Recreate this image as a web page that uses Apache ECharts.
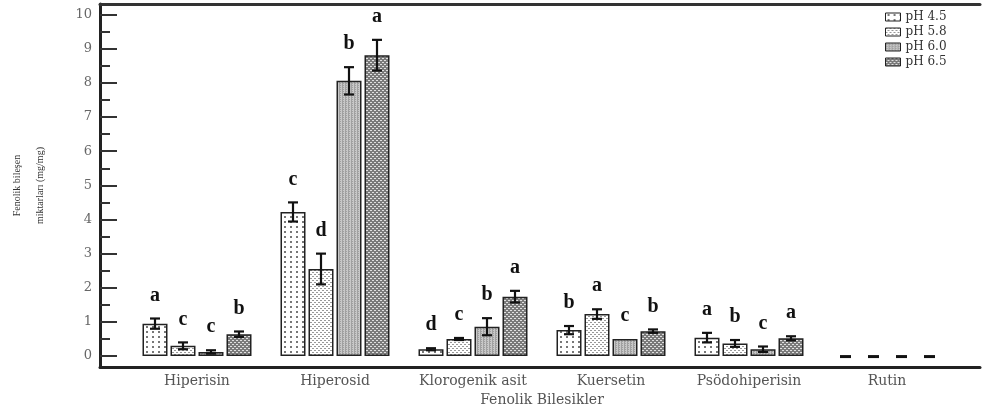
<!DOCTYPE html>
<html>
<head>
<meta charset="utf-8">
<script src="https://cdn.jsdelivr.net/npm/echarts@6/dist/echarts.min.js"></script>
<style>html,body{margin:0;padding:0;background:#fff;}#c{width:983px;height:406px;}</style>
</head>
<body>
<div id="c"></div>
<script>
// ---- data ----
var categories = ['Hiperisin', 'Hiperosid', 'Klorogenik asit', 'Kuersetin', 'Psödohiperisin', 'Rutin'];
var seriesNames = ['pH 4.5', 'pH 5.8', 'pH 6.0', 'pH 6.5'];
var ph45 = [0.95, 4.22, 0.20, 0.76, 0.54, 0];
var ph58 = [0.30, 2.55, 0.50, 1.23, 0.37, 0];
var ph60 = [0.12, 8.06, 0.86, 0.50, 0.20, 0];
var ph65 = [0.64, 8.81, 1.74, 0.73, 0.52, 0];
var err45 = [0.15, 0.28, 0.03, 0.12, 0.14, 0];
var err58 = [0.10, 0.45, 0.03, 0.14, 0.10, 0];
var err60 = [0.05, 0.40, 0.25, 0.00, 0.08, 0];
var err65 = [0.08, 0.45, 0.17, 0.05, 0.06, 0];
var let45 = ['a', 'c', 'd', 'b', 'a', ''];
var let58 = ['c', 'd', 'c', 'a', 'b', ''];
var let60 = ['c', 'b', 'b', 'c', 'c', ''];
var let65 = ['b', 'a', 'a', 'b', 'a', ''];
var yLabelValues = [0, 1, 2, 3, 4, 5, 6, 7, 8, 9, 10];
var yMinorValues = [0.5, 1.5, 2.5, 3.5, 4.5, 5.5, 6.5, 7.5, 8.5, 9.5];

var values = [ph45, ph58, ph60, ph65];
var errs = [err45, err58, err60, err65];
var letters = [let45, let58, let60, let65];

// ---- patterns ----
function makePattern(w, h, draw) {
  var c = document.createElement('canvas');
  c.width = w; c.height = h;
  var ctx = c.getContext('2d');
  draw(ctx, w, h);
  return { image: c, repeat: 'repeat' };
}
var patterns = [
  makePattern(6, 5, function (ctx, w, h) {
    ctx.fillStyle = '#ffffff'; ctx.fillRect(0, 0, w, h);
    ctx.fillStyle = '#777'; ctx.fillRect(2, 1, 2, 2);
  }),
  makePattern(4, 4, function (ctx, w, h) {
    ctx.fillStyle = '#ffffff'; ctx.fillRect(0, 0, w, h);
    ctx.fillStyle = '#999'; ctx.fillRect(0, 0, 2, 1); ctx.fillRect(2, 2, 2, 1);
  }),
  makePattern(3, 2, function (ctx, w, h) {
    ctx.fillStyle = '#c8c8c8'; ctx.fillRect(0, 0, w, h);
    ctx.fillStyle = '#a0a0a0'; ctx.fillRect(0, 0, 1, 2); ctx.fillRect(1, 1, 1, 1);
  }),
  makePattern(4, 4, function (ctx, w, h) {
    ctx.fillStyle = '#7a7a7a'; ctx.fillRect(0, 0, w, h);
    ctx.fillStyle = '#e0e0e0'; ctx.fillRect(0, 0, 2, 1); ctx.fillRect(2, 2, 2, 1);
  })
];

var BAR_W = 25, STEP = 28;
var series = [];
var yMin = -0.32, yMax = 10.31;

values.forEach(function (vals, s) {
  series.push({
    name: seriesNames[s],
    type: 'bar',
    xAxisIndex: 2, yAxisIndex: 2,
    barWidth: BAR_W,
    barGap: '12%',
    itemStyle: { color: patterns[s], borderColor: '#222', borderWidth: 1.5 },
    data: vals.map(function (v) {
      return v === 0 ? { value: v, itemStyle: { borderWidth: 0, opacity: 0 } } : v;
    }),
    z: 2
  });
});

values.forEach(function (vals, s) {
  series.push({
    type: 'custom',
    xAxisIndex: 2, yAxisIndex: 2,
    z: 5,
    silent: true,
    data: vals.map(function (v, i) { return [i, v, errs[s][i]]; }),
    renderItem: function (params, api) {
      var i = api.value(0), v = api.value(1), e = api.value(2);
      var off = (s - 1.5) * STEP;
      var top = api.coord([i, v + e]);
      var bot = api.coord([i, v - e]);
      var x = top[0] + off;
      var children = [];
      if (v === 0) {
        var p = api.coord([i, 0]);
        children.push({ type: 'rect', shape: { x: x - 5, y: p[1] - 1, width: 11, height: 3 }, style: { fill: '#111' } });
        return { type: 'group', children: children };
      }
      if (e > 0) {
        var st = { stroke: '#111', lineWidth: 2.2 };
        children.push({ type: 'line', shape: { x1: x, y1: top[1], x2: x, y2: bot[1] }, style: st });
        children.push({ type: 'line', shape: { x1: x - 5, y1: top[1], x2: x + 5, y2: top[1] }, style: st });
        children.push({ type: 'line', shape: { x1: x - 5, y1: bot[1], x2: x + 5, y2: bot[1] }, style: st });
      }
      var lt = letters[s][i];
      if (lt) {
        children.push({
          type: 'text',
          style: {
            text: lt, x: x, y: top[1] - 13,
            textAlign: 'center', textVerticalAlign: 'bottom',
            font: 'bold 20px "Liberation Serif"', fill: '#111'
          }
        });
      }
      return { type: 'group', children: children };
    }
  });
});

var chart = echarts.init(document.getElementById('c'), null, { renderer: 'canvas' });
chart.setOption({
  animation: false,
  backgroundColor: '#ffffff',
  legend: {
    data: seriesNames,
    orient: 'vertical',
    left: 880, top: 6,
    itemWidth: 15, itemHeight: 8, itemGap: 3,
    icon: 'rect',
    itemStyle: { borderColor: '#222', borderWidth: 1 },
    textStyle: { fontFamily: 'DejaVu Serif', fontSize: 12, color: '#333' }
  },
  grid: [
    { left: 100, right: 3, top: 4, bottom: 39, outerBoundsMode: 'none', containLabel: false },
    { left: 128, right: 27, top: 4, bottom: 39, outerBoundsMode: 'none', containLabel: false }
  ],
  xAxis: [
    { gridIndex: 0, type: 'value', min: 0, max: 1, position: 'bottom',
      axisLine: { show: true, onZero: false, lineStyle: { color: '#222', width: 3 } },
      axisTick: { show: false }, axisLabel: { show: false }, splitLine: { show: false } },
    { gridIndex: 0, type: 'value', min: 0, max: 1, position: 'top',
      axisLine: { show: true, onZero: false, lineStyle: { color: '#333', width: 3 } },
      axisTick: { show: false }, axisLabel: { show: false }, splitLine: { show: false } },
    { gridIndex: 1, type: 'category', data: categories,
      axisLine: { show: false, onZero: false }, axisTick: { show: false },
      axisLabel: { interval: 0, margin: 7, fontFamily: 'DejaVu Serif', fontSize: 14, color: '#555' },
      name: 'Fenolik Bilesikler', nameLocation: 'middle', nameGap: 23,
      nameTextStyle: { fontFamily: 'DejaVu Serif', fontSize: 14, color: '#555' } }
  ],
  yAxis: [
    { gridIndex: 0, type: 'value', min: yMin, max: yMax, position: 'left',
      axisLine: { show: true, onZero: false, lineStyle: { color: '#222', width: 3 } },
      axisTick: { show: true, inside: true, length: 17, customValues: yLabelValues, lineStyle: { color: '#333', width: 2 } },
      axisLabel: { customValues: yLabelValues, margin: 8, fontFamily: 'DejaVu Serif', fontSize: 13, color: '#666' },
      splitLine: { show: false },
      name: 'Fenolik bileşen\nmiktarları (mg/mg)', nameLocation: 'middle', nameRotate: 90, nameGap: 48,
      nameTextStyle: { fontFamily: 'Liberation Serif', fontSize: 10, color: '#333', lineHeight: 23 } },
    { gridIndex: 0, type: 'value', min: yMin, max: yMax, position: 'left',
      axisLine: { show: false, onZero: false },
      axisTick: { show: true, inside: true, length: 10, customValues: yMinorValues, lineStyle: { color: '#333', width: 2 } },
      axisLabel: { show: false }, splitLine: { show: false } },
    { gridIndex: 1, type: 'value', min: yMin, max: yMax, show: false, splitLine: { show: false } }
  ],
  series: series
});
</script>
</body>
</html>
